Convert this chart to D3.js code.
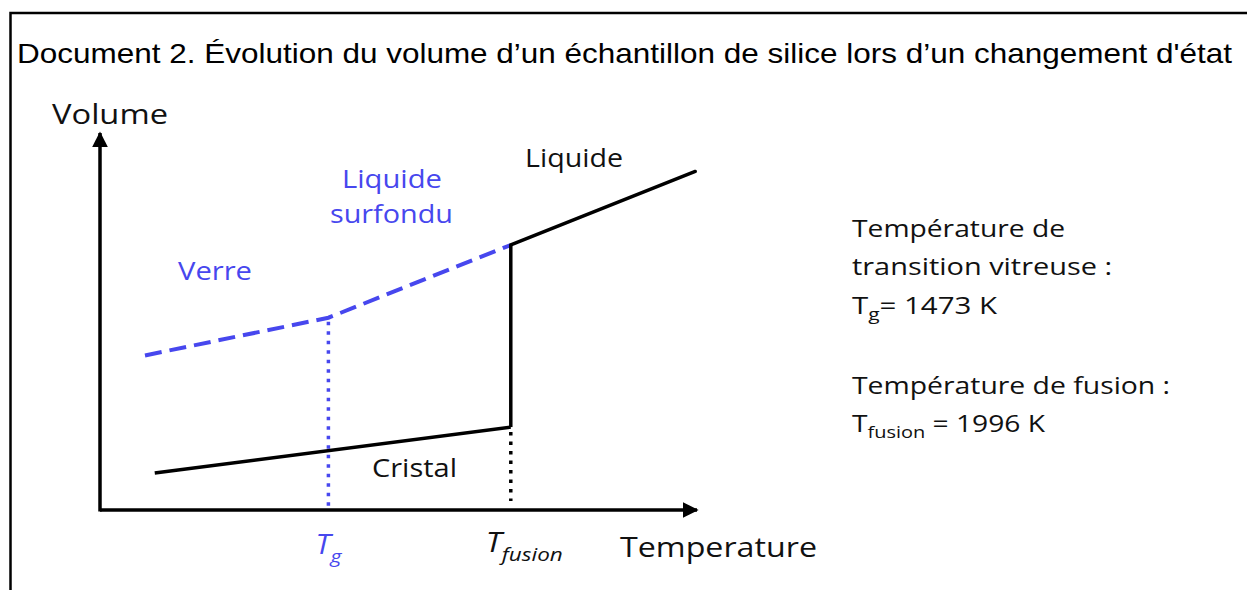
<!DOCTYPE html>
<html>
<head>
<meta charset="utf-8">
<script src="https://cdn.jsdelivr.net/npm/d3@7"></script>
<style>
  body { margin: 0; background: #fff; }
  svg { display: block; }
</style>
</head>
<body>
<div id="chart"></div>
<script>
// data (temperature in K, volume in arbitrary units)
var Tg = 1473;
var Tfusion = 1996;
var tempDomain = [818, 2530];
var volDomain = [0, 10];
var verreCurve = [[947, 4.1], [Tg, 5.1], [Tfusion, 7.03]];
var liquideCurve = [[Tfusion, 7.03], [2525, 8.98]];
var cristalCurve = [[975, 0.98], [Tfusion, 2.2]];
var fusionJump = [[Tfusion, 2.2], [Tfusion, 7.03]];
var infoLines = ["Température de", "transition vitreuse :"];

var blue = "#4747ee";
var svgWidth = 1247;
var svgHeight = 590;
var svg;
var x;
var y;

function PlaceSVG() {
  svg = d3.select("#chart").append("svg")
    .attr("width", svgWidth)
    .attr("height", svgHeight);

  // frame (left + top only)
  svg.append("path")
    .attr("d", "M10.5,590 V13 H1247")
    .attr("fill", "none")
    .attr("stroke", "#000")
    .attr("stroke-width", 2.5);

  svg.append("text")
    .attr("x", 17)
    .attr("y", 63)
    .attr("font-family", "Liberation Sans, Arial, sans-serif")
    .attr("font-size", 28.5)
    .attr("textLength", 1215)
    .attr("lengthAdjust", "spacingAndGlyphs")
    .text("Document 2. Évolution du volume d’un échantillon de silice lors d’un changement d'état");
};

function CreatePlot() {
  x = d3.scaleLinear().domain(tempDomain).range([100, 697]);
  y = d3.scaleLinear().domain(volDomain).range([510, 133]);

  var defs = svg.append("defs");
  defs.append("marker")
    .attr("id", "arrow")
    .attr("viewBox", "0 0 10 10")
    .attr("refX", 9).attr("refY", 5)
    .attr("markerWidth", 4.6).attr("markerHeight", 4.6)
    .attr("markerUnits", "strokeWidth")
    .attr("orient", "auto")
    .append("path")
    .attr("d", "M0,0 L10,5 L0,10 z")
    .attr("fill", "#000");

  var line = d3.line().x(d => x(d[0])).y(d => y(d[1]));

  // axes
  svg.append("line")
    .attr("x1", x(tempDomain[0])).attr("y1", y(0))
    .attr("x2", x(tempDomain[1])).attr("y2", y(0))
    .attr("stroke", "#000").attr("stroke-width", 3.5)
    .attr("marker-end", "url(#arrow)");
  svg.append("line")
    .attr("x1", x(tempDomain[0])).attr("y1", y(0) + 1.5)
    .attr("x2", x(tempDomain[0])).attr("y2", y(volDomain[1]))
    .attr("stroke", "#000").attr("stroke-width", 3.5)
    .attr("marker-end", "url(#arrow)");

  // dotted guides
  svg.append("line")
    .attr("x1", x(Tg)).attr("y1", y(5.1) + 4)
    .attr("x2", x(Tg)).attr("y2", y(0) - 2)
    .attr("stroke", blue).attr("stroke-width", 3.5)
    .attr("stroke-dasharray", "3.5 6");
  svg.append("line")
    .attr("x1", x(Tfusion)).attr("y1", y(2.2) + 5)
    .attr("x2", x(Tfusion)).attr("y2", y(0) - 9)
    .attr("stroke", "#000").attr("stroke-width", 3.5)
    .attr("stroke-dasharray", "3.5 6");

  // curves
  svg.append("path").datum(verreCurve)
    .attr("d", line)
    .attr("fill", "none")
    .attr("stroke", blue).attr("stroke-width", 4)
    .attr("stroke-dasharray", "17 8");
  svg.append("path").datum(cristalCurve)
    .attr("d", line)
    .attr("fill", "none")
    .attr("stroke", "#000").attr("stroke-width", 3.5);
  svg.append("path").datum(fusionJump)
    .attr("d", line)
    .attr("fill", "none")
    .attr("stroke", "#000").attr("stroke-width", 3.5);
  svg.append("path").datum(liquideCurve)
    .attr("d", line)
    .attr("fill", "none")
    .attr("stroke", "#000").attr("stroke-width", 3.5)
    .attr("stroke-linecap", "round");

  // labels
  var font = "'Open Sans', Lato, sans-serif";
  function label(tx, ty, txt, col, size, len) {
    var t = svg.append("text")
      .attr("x", tx).attr("y", ty)
      .attr("font-family", font)
      .attr("font-size", size)
      .attr("fill", col)
      .text(txt);
    if (len) t.attr("textLength", len).attr("lengthAdjust", "spacingAndGlyphs");
    return t;
  }
  label(52, 124, "Volume", "#111", 27, 116);
  label(178, 280, "Verre", blue, 25, 74);
  label(342, 188, "Liquide", blue, 25, 100);
  label(330, 223, "surfondu", blue, 25, 123);
  label(525, 167, "Liquide", "#111", 25, 98);
  label(372, 477, "Cristal", "#111", 25, 85);
  label(620, 557, "Temperature", "#111", 27, 197);

  var tg = svg.append("text")
    .attr("x", x(Tg) - 13).attr("y", 554)
    .attr("font-family", font).attr("font-style", "italic")
    .attr("font-size", 27).attr("fill", blue)
    .attr("textLength", 26).attr("lengthAdjust", "spacingAndGlyphs");
  tg.append("tspan").text("T");
  tg.append("tspan").attr("dy", 9).attr("font-size", 19).text("g");

  var tf = svg.append("text")
    .attr("x", x(Tfusion) - 25).attr("y", 552)
    .attr("font-family", font).attr("font-style", "italic")
    .attr("font-size", 27).attr("fill", "#111")
    .attr("textLength", 77).attr("lengthAdjust", "spacingAndGlyphs");
  tf.append("tspan").text("T");
  tf.append("tspan").attr("dy", 9).attr("font-size", 19).text("fusion");

  // info block on the right
  var infoLen = [213, 260];
  infoLines.forEach(function(t, i) {
    label(852, 237 + i * 38, t, "#111", 24, infoLen[i]);
  });
  var l3 = svg.append("text")
    .attr("x", 852).attr("y", 314)
    .attr("font-family", font).attr("font-size", 24).attr("fill", "#111")
    .attr("textLength", 145).attr("lengthAdjust", "spacingAndGlyphs");
  l3.append("tspan").text("T");
  l3.append("tspan").attr("dy", 6).attr("font-size", 17).text("g");
  l3.append("tspan").attr("dy", -6).text("= " + Tg + " K");

  label(852, 394, "Température de fusion :", "#111", 24, 318);
  var l5 = svg.append("text")
    .attr("x", 852).attr("y", 432)
    .attr("font-family", font).attr("font-size", 24).attr("fill", "#111")
    .attr("textLength", 193).attr("lengthAdjust", "spacingAndGlyphs");
  l5.append("tspan").text("T");
  l5.append("tspan").attr("dy", 6).attr("font-size", 17).text("fusion");
  l5.append("tspan").attr("dy", -6).text(" = " + Tfusion + " K");
};

PlaceSVG();
CreatePlot();
</script>
</body>
</html>
